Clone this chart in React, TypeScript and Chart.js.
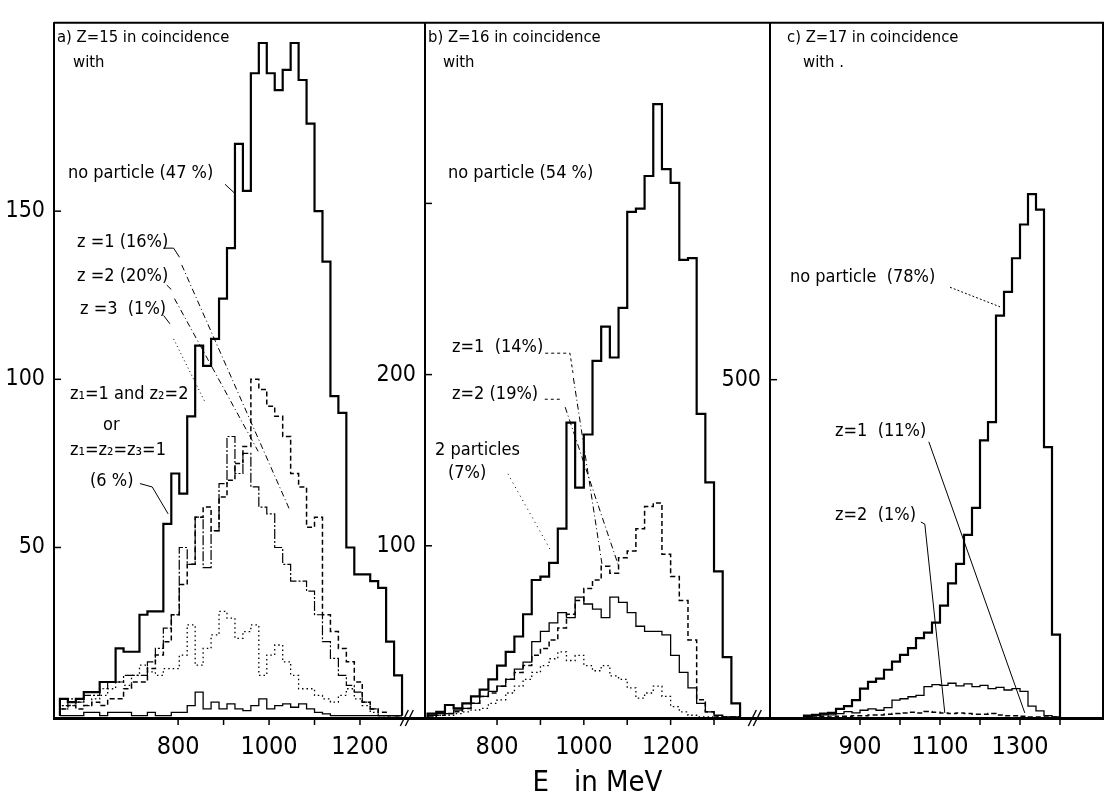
import React, { useEffect, useRef } from "react";
import { Chart, registerables } from "chart.js";

Chart.register(...registerables);

const FONT = '"Liberation Sans Narrow", "DejaVu Sans Condensed", "Liberation Sans", "DejaVu Sans", sans-serif';

// ---------------- Panel a : Z = 15 ----------------
const binStartA = 540; // MeV, left edge of first bin
const binWidthA = 17.5; // MeV
const aNoParticle = [5, 4, 5, 7, 7, 10, 10, 20, 19, 19, 30, 31, 31, 57, 72, 66, 89, 110, 104, 112, 124, 139, 170, 156, 191, 200, 191, 186, 192, 200, 189, 176, 150, 135, 95, 90, 50, 42, 42, 40, 38, 22, 12];
const aZ1 = [3, 5, 4, 6, 6, 8, 10, 10, 12, 12, 12, 16, 20, 26, 30, 50, 45, 59, 44, 55, 69, 83, 72, 78, 68, 62, 60, 50, 45, 40, 40, 37, 30, 22, 17, 12, 9, 7, 4, 2, 0, 0, 0];
const aZ2 = [2, 3, 2, 3, 4, 3, 5, 5, 8, 10, 10, 14, 18, 22, 30, 39, 45, 59, 62, 55, 65, 70, 75, 80, 100, 97, 92, 89, 83, 72, 68, 56, 59, 30, 25, 20, 16, 10, 4, 2, 1, 0, 0];
const aZ3 = [0, 0, 0, 1, 1, 0, 1, 1, 1, 0, 0, 1, 0, 0, 1, 1, 3, 7, 2, 4, 2, 3.5, 2, 1.5, 3, 5, 2, 3, 3.5, 2.5, 3.5, 2, 1, 0.5, 0, 0, 0, 0, 0, 0, 0, 0, 0];
const aPairs = [2, 3, 4, 3, 5, 6, 8, 10, 9, 12, 15, 13, 12, 14, 14, 18, 27, 15, 20, 24, 31, 29, 23, 25, 27, 12, 18, 21, 16, 12, 8, 8, 6, 5, 4, 6, 8, 5, 3, 1, 0, 0, 0];
const xTicksA = [800, 900, 1000, 1100, 1200];
const xLabelsA = [800, 1000, 1200];
const yTicksA = [50, 100, 150];
const yLabelsA = [50, 100, 150];

// ---------------- Panel b : Z = 16 ----------------
const binStartB = 640;
const binWidthB = 20;
const bNoParticle = [2, 3, 7, 5, 8, 12, 16, 22, 30, 38, 47, 60, 80, 82, 90, 110, 172, 134, 165, 208, 228, 210, 239, 295, 297, 316, 358, 320, 312, 267, 268, 177, 137, 85, 35, 8];
const bZ1 = [1, 2, 2, 4, 5, 8, 12, 15, 18, 22, 28, 32, 44, 50, 55, 61, 58, 70, 66, 63, 58, 70, 67, 61, 53, 50, 50, 48, 36, 26, 17, 8, 3, 1, 0, 0];
const bZ2 = [0, 1, 2, 3, 5, 8, 12, 14, 18, 22, 26, 30, 36, 40, 45, 52, 60, 68, 75, 80, 88, 84, 93, 97, 110, 123, 125, 95, 82, 68, 45, 10, 3, 0, 0, 0];
const bPairs = [0, 1, 1, 2, 3, 4, 5, 8, 10, 14, 18, 22, 26, 30, 34, 38, 33, 36, 30, 27, 30, 24, 22, 17, 11, 14, 18, 12, 6, 3, 1, 0, 0, 0, 0, 0];
const xTicksB = [800, 900, 1000, 1100, 1200, 1300];
const xLabelsB = [800, 1000, 1200];
const yTicksB = [100, 200, 300];
const yLabelsB = [100, 200];

// ---------------- Panel c : Z = 17 ----------------
const binStartC = 760;
const binWidthC = 20;
const cNoParticle = [2, 3, 5, 6, 12, 16, 25, 42, 52, 57, 70, 82, 92, 102, 117, 125, 140, 165, 198, 227, 270, 310, 410, 437, 595, 630, 680, 730, 775, 752, 400, 122];
const cZ1 = [1, 2, 3, 3, 5, 8, 6, 10, 12, 10, 14, 25, 27, 30, 32, 45, 48, 47, 50, 46, 49, 45, 47, 42, 44, 40, 42, 38, 16, 9, 2, 0];
const cZ2 = [0, 0, 1, 0, 1, 1, 2, 2, 3, 3, 4, 5, 6, 7, 6, 8, 7, 6, 5, 6, 5, 4, 4, 5, 3, 2, 2, 1, 0, 0, 0, 0];
const xTicksC = [900, 1000, 1100, 1200, 1300, 1400];
const xLabelsC = [900, 1100, 1300];
const yTicksC = [500];
const yLabelsC = [500];

// ---------------- helpers ----------------
type Pt = { x: number; y: number };
function histogram(start: number, width: number, values: number[]): Pt[] {
  const pts: Pt[] = [{ x: start, y: 0 }];
  values.forEach((v, i) => pts.push({ x: start + i * width, y: v }));
  pts.push({ x: start + values.length * width, y: 0 });
  return pts;
}

const MAIN = { borderWidth: 2.2, borderDash: [] as number[] };
const THIN = { borderWidth: 1.3, borderDash: [] as number[] };
const DASHED = { borderWidth: 1.5, borderDash: [5, 3] };
const DASHDOT = { borderWidth: 1.2, borderDash: [10, 2, 2, 2] };
const DOTTED = { borderWidth: 1.3, borderDash: [1.5, 3] };

type Leader = { pts: [number, number][]; dash: number[] };
type Txt = { text: string; x: number; y: number; size?: number };

const TITLE = 16.5;

const panels = [
  {
    id: "a",
    xMin: 527, xMax: 1343, yMin: -0.7, yMax: 206,
    padLeft: 4, padRight: 680,
    xTicks: xTicksA, xLabels: xLabelsA, yTicks: yTicksA, yLabels: yLabelsA,
    breakAt: 1303, rightBorder: false, title: "",
    series: [
      { label: "no particle (47 %)", start: binStartA, width: binWidthA, values: aNoParticle, style: MAIN },
      { label: "z = 1 (16 %)", start: binStartA, width: binWidthA, values: aZ1, style: DASHDOT },
      { label: "z = 2 (20 %)", start: binStartA, width: binWidthA, values: aZ2, style: DASHED },
      { label: "z = 3 (1 %)", start: binStartA, width: binWidthA, values: aZ3, style: THIN },
      { label: "z1=1 and z2=2 or z1=z2=z3=1 (6 %)", start: binStartA, width: binWidthA, values: aPairs, style: DOTTED },
    ],
    texts: [
      { text: "a) Z=15 in coincidence", x: 57, y: 42, size: TITLE },
      { text: "with", x: 73, y: 67, size: TITLE },
      { text: "no particle (47 %)", x: 68, y: 178 },
      { text: "z =1 (16%)", x: 77, y: 247 },
      { text: "z =2 (20%)", x: 77, y: 281 },
      { text: "z =3  (1%)", x: 80, y: 314 },
      { text: "z₁=1 and z₂=2", x: 70, y: 399 },
      { text: "or", x: 103, y: 430 },
      { text: "z₁=z₂=z₃=1", x: 70, y: 455 },
      { text: "(6 %)", x: 90, y: 486 },
    ] as Txt[],
    leaders: [
      { pts: [[903, 158], [923, 155.5]], dash: [] },
      { pts: [[768, 139], [790, 139], [803, 136.3]], dash: [] },
      { pts: [[808, 134], [1046, 61]], dash: [6, 3, 1, 3] },
      { pts: [[775, 128], [785, 126.7]], dash: [] },
      { pts: [[792, 124], [976, 78.6]], dash: [6, 3, 1, 3] },
      { pts: [[768, 119], [782, 116.5]], dash: [] },
      { pts: [[790, 112], [860, 93]], dash: [1, 3] },
      { pts: [[716, 69], [743, 68], [778, 60]], dash: [] },
    ] as Leader[],
  },
  {
    id: "b",
    xMin: 634, xMax: 1429, yMin: -0.6, yMax: 405.5,
    padLeft: 375, padRight: 335,
    xTicks: xTicksB, xLabels: xLabelsB, yTicks: yTicksB, yLabels: yLabelsB,
    breakAt: 1394, rightBorder: false, title: "E   in MeV",
    series: [
      { label: "no particle (54 %)", start: binStartB, width: binWidthB, values: bNoParticle, style: MAIN },
      { label: "z = 1 (14 %)", start: binStartB, width: binWidthB, values: bZ1, style: THIN },
      { label: "z = 2 (19 %)", start: binStartB, width: binWidthB, values: bZ2, style: DASHED },
      { label: "2 particles (7 %)", start: binStartB, width: binWidthB, values: bPairs, style: DOTTED },
    ],
    texts: [
      { text: "b) Z=16 in coincidence", x: 428, y: 42, size: TITLE },
      { text: "with", x: 443, y: 67, size: TITLE },
      { text: "no particle (54 %)", x: 448, y: 178 },
      { text: "z=1  (14%)", x: 452, y: 352 },
      { text: "z=2 (19%)", x: 452, y: 399 },
      { text: "2 particles", x: 435, y: 455 },
      { text: "(7%)", x: 448, y: 478 },
    ] as Txt[],
    leaders: [
      { pts: [[911, 212.5], [968, 212.5], [975, 201]], dash: [3, 3] },
      { pts: [[976, 198], [1042, 89]], dash: [6, 3, 1, 3] },
      { pts: [[910, 185.6], [950, 185.6]], dash: [3, 3] },
      { pts: [[957, 181], [1079, 89]], dash: [6, 3, 1, 3] },
      { pts: [[825, 142], [922, 98]], dash: [1, 4] },
    ] as Leader[],
  },
  {
    id: "c",
    xMin: 675, xMax: 1507.5, yMin: -1.5, yMax: 1029,
    padLeft: 720, padRight: 2,
    xTicks: xTicksC, xLabels: xLabelsC, yTicks: yTicksC, yLabels: yLabelsC,
    breakAt: null as number | null, rightBorder: true, title: "",
    series: [
      { label: "no particle (78 %)", start: binStartC, width: binWidthC, values: cNoParticle, style: MAIN },
      { label: "z = 1 (11 %)", start: binStartC, width: binWidthC, values: cZ1, style: THIN },
      { label: "z = 2 (1 %)", start: binStartC, width: binWidthC, values: cZ2, style: DASHED },
    ],
    texts: [
      { text: "c) Z=17 in coincidence", x: 787, y: 42, size: TITLE },
      { text: "with .", x: 803, y: 67, size: TITLE },
      { text: "no particle  (78%)", x: 790, y: 282 },
      { text: "z=1  (11%)", x: 835, y: 436 },
      { text: "z=2  (1%)", x: 835, y: 520 },
    ] as Txt[],
    leaders: [
      { pts: [[1125, 637], [1250, 608]], dash: [2, 2] },
      { pts: [[1072, 408], [1312, 6]], dash: [] },
      { pts: [[1052, 289], [1062, 286], [1112, 6]], dash: [] },
    ] as Leader[],
  },
];

type PanelCfg = (typeof panels)[number];

function decorPlugin(cfg: PanelCfg) {
  return {
    id: "decor" + cfg.id,
    afterDraw(chart: any) {
      const { ctx, chartArea } = chart;
      const xs = chart.scales.x;
      const ys = chart.scales.y;
      ctx.save();
      ctx.strokeStyle = "#000";
      ctx.fillStyle = "#000";
      // frame
      ctx.lineWidth = 2;
      ctx.beginPath();
      ctx.moveTo(chartArea.left, chartArea.top);
      ctx.lineTo(chartArea.right, chartArea.top);
      if (cfg.rightBorder) ctx.lineTo(chartArea.right, chartArea.bottom);
      ctx.stroke();
      // y tick marks (inward)
      ctx.lineWidth = 1.5;
      cfg.yTicks.forEach((v) => {
        const y = ys.getPixelForValue(v);
        ctx.beginPath();
        ctx.moveTo(chartArea.left, y);
        ctx.lineTo(chartArea.left + 7, y);
        ctx.stroke();
      });
      // x tick marks
      cfg.xTicks.forEach((v) => {
        const x = xs.getPixelForValue(v);
        ctx.beginPath();
        ctx.moveTo(x, chartArea.bottom);
        ctx.lineTo(x, chartArea.bottom + 7);
        ctx.stroke();
      });
      // axis break
      if (cfg.breakAt != null) {
        const bx = xs.getPixelForValue(cfg.breakAt);
        const by = chartArea.bottom;
        ctx.lineWidth = 1.4;
        [-2.5, 2.5].forEach((d) => {
          ctx.beginPath();
          ctx.moveTo(bx + d - 4, by + 8);
          ctx.lineTo(bx + d + 4, by - 8);
          ctx.stroke();
        });
      }
      // leader lines
      ctx.lineWidth = 1;
      cfg.leaders.forEach((l) => {
        ctx.setLineDash(l.dash);
        ctx.beginPath();
        l.pts.forEach(([e, v], i) => {
          const px = xs.getPixelForValue(e);
          const py = ys.getPixelForValue(v);
          if (i === 0) ctx.moveTo(px, py);
          else ctx.lineTo(px, py);
        });
        ctx.stroke();
      });
      ctx.setLineDash([]);
      // annotation texts
      ctx.textAlign = "left";
      ctx.textBaseline = "alphabetic";
      cfg.texts.forEach((t) => {
        ctx.font = `${t.size || 18}px ${FONT}`;
        ctx.fillText(t.text, t.x, t.y);
      });
      ctx.restore();
    },
  };
}

function Panel({ cfg }: { cfg: PanelCfg }) {
  const ref = useRef<HTMLCanvasElement>(null);
  useEffect(() => {
    const canvas = ref.current;
    if (!canvas) return;
    const chart = new Chart(canvas, {
      type: "line",
      data: {
        datasets: cfg.series.map((s) => ({
          label: s.label,
          data: histogram(s.start, s.width, s.values),
          stepped: true,
          borderColor: "#000",
          backgroundColor: "#000",
          borderWidth: s.style.borderWidth,
          borderDash: s.style.borderDash,
          pointRadius: 0,
          fill: false,
          tension: 0,
        })),
      },
      options: {
        animation: false,
        responsive: false,
        devicePixelRatio: 1,
        layout: { padding: { left: cfg.padLeft, right: cfg.padRight, top: 9, bottom: 0 } },
        plugins: { legend: { display: false }, tooltip: { enabled: false } },
        scales: {
          x: {
            type: "linear",
            min: cfg.xMin,
            max: cfg.xMax,
            afterFit: (s: any) => {
              s.height = 79;
            },
            afterBuildTicks: (s: any) => {
              s.ticks = cfg.xTicks.map((v) => ({ value: v }));
            },
            ticks: {
              autoSkip: false,
              maxRotation: 0,
              padding: 14,
              color: "#000",
              font: { family: FONT, size: 25 },
              callback: (v: any) => (cfg.xLabels.includes(Number(v)) ? String(v) : ""),
            },
            grid: { drawOnChartArea: false, drawTicks: false },
            border: { display: true, color: "#000", width: 3 },
            title: {
              display: cfg.title !== "",
              text: cfg.title,
              color: "#000",
              font: { family: FONT, size: 29 },
              padding: { top: 0, bottom: -4 },
            },
          },
          y: {
            type: "linear",
            min: cfg.yMin,
            max: cfg.yMax,
            afterFit: (s: any) => {
              s.width = 50;
            },
            afterBuildTicks: (s: any) => {
              s.ticks = cfg.yTicks.map((v) => ({ value: v }));
            },
            ticks: {
              padding: 9,
              color: "#000",
              font: { family: FONT, size: 23 },
              callback: (v: any) => (cfg.yLabels.includes(Number(v)) ? String(v) : ""),
            },
            grid: { drawOnChartArea: false, drawTicks: false },
            border: { display: true, color: "#000", width: 2 },
          },
        },
      },
      plugins: [decorPlugin(cfg)],
    } as any);
    return () => chart.destroy();
  }, [cfg]);
  return (
    <canvas
      ref={ref}
      width={1105}
      height={797}
      style={{ position: "absolute", left: 0, top: 0, width: 1105, height: 797 }}
    />
  );
}

export default function App() {
  return (
    <div
      style={{
        position: "fixed",
        left: 0,
        top: 0,
        width: 1105,
        height: 797,
        background: "#fff",
        overflow: "hidden",
      }}
    >
      {panels.map((p) => (
        <Panel key={p.id} cfg={p} />
      ))}
    </div>
  );
}
